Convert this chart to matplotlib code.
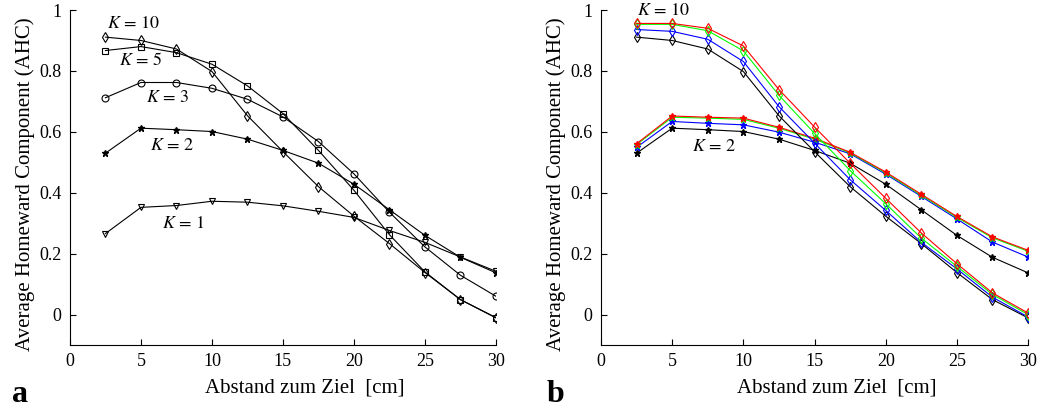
import matplotlib
matplotlib.use("Agg")
import matplotlib.pyplot as plt

plt.rcParams['font.family'] = ['Liberation Serif', 'DejaVu Serif']
plt.rcParams['mathtext.fontset'] = 'stix'

# distance to goal [cm]
abstand = [2.5, 5, 7.5, 10, 12.5, 15, 17.5, 20, 22.5, 25, 27.5, 30]

# panel a: AHC for different K
ahc_k1 = [0.266, 0.352, 0.358, 0.372, 0.369, 0.357, 0.339, 0.319, 0.276, 0.237, 0.189, 0.142]
ahc_k2 = [0.530, 0.612, 0.607, 0.601, 0.576, 0.539, 0.497, 0.428, 0.344, 0.260, 0.188, 0.137]
ahc_k3 = [0.712, 0.762, 0.762, 0.743, 0.707, 0.649, 0.568, 0.462, 0.336, 0.222, 0.129, 0.060]
ahc_k5 = [0.867, 0.880, 0.860, 0.822, 0.751, 0.660, 0.539, 0.408, 0.262, 0.140, 0.049, -0.010]
ahc_k10 = [0.911, 0.900, 0.872, 0.798, 0.653, 0.535, 0.420, 0.323, 0.233, 0.138, 0.049, -0.011]

# panel b: K=10 and K=2, four variants (black = same as panel a)
k10_blue = [0.936, 0.930, 0.904, 0.831, 0.683, 0.563, 0.443, 0.342, 0.237, 0.150, 0.057, -0.008]
k10_green = [0.953, 0.953, 0.932, 0.866, 0.720, 0.595, 0.473, 0.364, 0.251, 0.158, 0.066, 0.000]
k10_red = [0.956, 0.956, 0.940, 0.882, 0.739, 0.616, 0.497, 0.382, 0.268, 0.167, 0.071, 0.005]
k2_blue = [0.549, 0.634, 0.628, 0.623, 0.599, 0.566, 0.528, 0.461, 0.388, 0.314, 0.238, 0.189]
k2_green = [0.558, 0.648, 0.645, 0.641, 0.612, 0.576, 0.531, 0.465, 0.392, 0.319, 0.252, 0.208]
k2_red = [0.561, 0.652, 0.648, 0.645, 0.615, 0.579, 0.533, 0.468, 0.395, 0.322, 0.255, 0.211]

fig = plt.figure(figsize=(10.38, 4.11), dpi=100)
axa = fig.add_axes([0.0674, 0.1606, 0.4104, 0.815])
axb = fig.add_axes([0.579, 0.1606, 0.4114, 0.815])

lw = 0.8
ms = 5

def style(ax):
    ax.set_xlim(0, 30)
    ax.set_ylim(-0.1, 1)
    ax.set_xticks([0, 5, 10, 15, 20, 25, 30])
    ax.set_yticks([0, 0.2, 0.4, 0.6, 0.8, 1])
    ax.set_yticklabels(['0', '0.2', '0.4', '0.6', '0.8', '1'])
    ax.spines['top'].set_visible(False)
    ax.spines['right'].set_visible(False)
    ax.tick_params(direction='in', length=4, labelsize=13, pad=6)
    ax.set_xlabel('Abstand zum Ziel  [cm]', fontsize=15)
    ax.set_ylabel('Average Homeward Component (AHC)', fontsize=15)
    ax.xaxis.set_label_coords(0.552, -0.10)
    ax.yaxis.set_label_coords(-0.082, 0.48)

# panel a
axa.plot(abstand, ahc_k1, 'k-', marker='v', mfc='none', ms=ms, lw=lw, mew=0.8)
axa.plot(abstand, ahc_k2, 'k-', marker='*', ms=ms, lw=lw)
axa.plot(abstand, ahc_k3, 'k-', marker='o', mfc='none', ms=ms, lw=lw, mew=0.8)
axa.plot(abstand, ahc_k5, 'k-', marker='s', mfc='none', ms=4.5, lw=lw, mew=0.8)
axa.plot(abstand, ahc_k10, 'k-', marker='d', mfc='none', ms=ms, lw=lw, mew=0.8)
style(axa)
axa.text(2.6, 0.955, '$K\\,=\\,10$', fontsize=13, va='center')
axa.text(3.45, 0.833, '$K\\,=\\,5$', fontsize=13, va='center')
axa.text(5.35, 0.714, '$K\\,=\\,3$', fontsize=13, va='center')
axa.text(5.63, 0.555, '$K\\,=\\,2$', fontsize=13, va='center')
axa.text(6.45, 0.30, '$K\\,=\\,1$', fontsize=13, va='center')

# panel b
for ys, c in [(ahc_k2, 'k'), (k2_blue, '#0000ff'), (k2_green, '#00ff00'), (k2_red, '#ff0000')]:
    axb.plot(abstand, ys, '-', color=c, marker='*', ms=ms, lw=lw)
for ys, c in [(ahc_k10, 'k'), (k10_blue, '#0000ff'), (k10_green, '#00ff00'), (k10_red, '#ff0000')]:
    axb.plot(abstand, ys, '-', color=c, marker='d', mfc='none', ms=ms, lw=lw, mew=0.8)
style(axb)
axb.text(2.53, 1.0, '$K\\,=\\,10$', fontsize=13, va='center')
axb.text(6.4, 0.552, '$K\\,=\\,2$', fontsize=13, va='center')

fig.text(0.012, 0.022, 'a', fontsize=23, fontweight='bold')
fig.text(0.527, 0.022, 'b', fontsize=23, fontweight='bold')

fig.savefig('out.png', dpi=100)
